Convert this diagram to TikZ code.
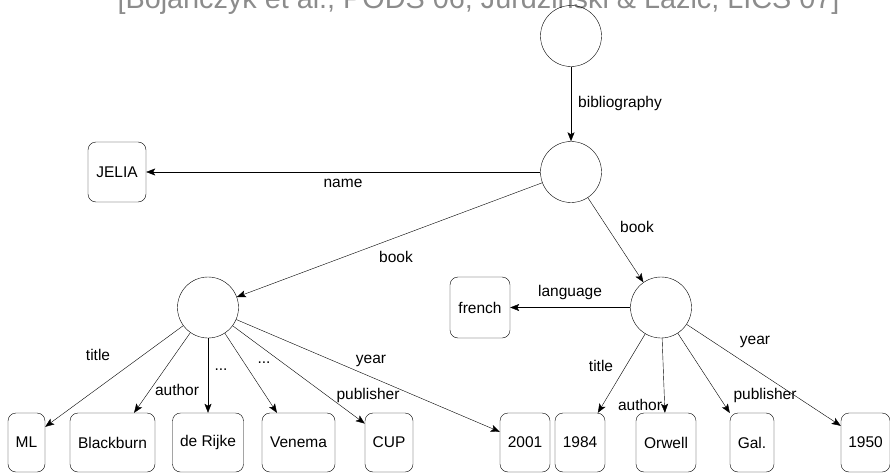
\documentclass[tikz,border=0pt]{standalone}
\usepackage{fontspec}
\setmainfont{Liberation Sans}
\usetikzlibrary{arrows.meta}
\definecolor{citegray}{RGB}{140,140,140}
\begin{document}
\begin{tikzpicture}[x=1pt,y=-1pt,font=\fontsize{15.5}{18}\selectfont,
  state/.style={draw,circle,minimum size=61pt,inner sep=0pt},
  val/.style={draw,rounded corners=8pt,minimum height=59pt,minimum width=#1,inner sep=2pt},
  lbl/.style={inner sep=0pt},
  >={Stealth[length=9pt,width=7pt,inset=2pt]}]
\useasboundingbox (0,0) rectangle (890,473);
\clip (0,0) rectangle (890,473);
\node [citegray,font=\fontsize{28.8}{30}\selectfont,anchor=base] (cite) at (478.5,9)
  {[Bojańczyk et al., PODS 06; Jurdziński \& Lazić, LICS 07]};
% tree nodes
\node [state] (root) at (571,36) {};
\node [state] (bib) at (571,172) {};
\node [state] (bk1) at (208,307.5) {};
\node [state] (bk2) at (661,307.5) {};
\node [val=58pt,minimum height=60pt] (jelia) at (117,172) {JELIA};
\node [val=60pt,minimum height=61pt] (french) at (480,307.5) {french};
\node [val=37pt] (ml) at (26.5,442.5) {ML};
\node [val=85pt] (blackburn) at (112.5,442.5) {Blackburn};
\node [val=71pt] (derijke) at (208,442.5) {de Rijke};
\node [val=73pt] (venema) at (298.5,442.5) {Venema};
\node [val=48pt] (cup) at (389,442.5) {CUP};
\node [val=50pt] (y2001) at (525,442.5) {2001};
\node [val=50pt] (t1984) at (580,442.5) {1984};
\node [val=60pt] (orwell) at (666,442.5) {Orwell};
\node [val=44pt] (gal) at (752,442.5) {Gal.};
\node [val=49pt] (y1950) at (865.5,442.5) {1950};
% edges
\draw [->] (root) -- (bib);
\draw [->] (bib) -- (jelia);
\draw [->] (bib) -- (bk1.20);
\draw [->] (bib) -- (bk2.125);
\draw [->] (bk2) -- (french);
\draw [->] (bk1) -- (ml.40);
\draw [->] (bk1) -- (blackburn.54);
\draw [->] (bk1) -- (derijke);
\draw [->] (bk1) -- (venema.126);
\draw [->] (bk1) -- (cup.142);
\draw [->] (bk1) -- (y2001.157);
\draw [->] (bk2) -- (t1984.59);
\draw [->] (bk2) -- (orwell);
\draw [->] (bk2) -- (gal.127);
\draw [->] (bk2) -- (y1950.146);
% edge labels
\node [lbl,anchor=west] (l1) at (578,103) {bibliography};
\node [lbl] (l2) at (343,183) {name};
\node [lbl] (l3) at (396,257) {book};
\node [lbl] (l4) at (637,227) {book};
\node [lbl] (l5) at (570,292) {language};
\node [lbl] (l6) at (98,355) {title};
\node [lbl] (l7) at (177,390) {author};
\node [lbl] (l8) at (221,370) {...};
\node [lbl] (l9) at (264,363) {...};
\node [lbl] (l10) at (368,395) {publisher};
\node [lbl] (l11) at (371,361) {year};
\node [lbl] (l12) at (601,366) {title};
\node [lbl] (l13) at (640,405) {author};
\node [lbl] (l14) at (765,395) {publisher};
\node [lbl] (l15) at (755,342) {year};
\end{tikzpicture}
\end{document}
